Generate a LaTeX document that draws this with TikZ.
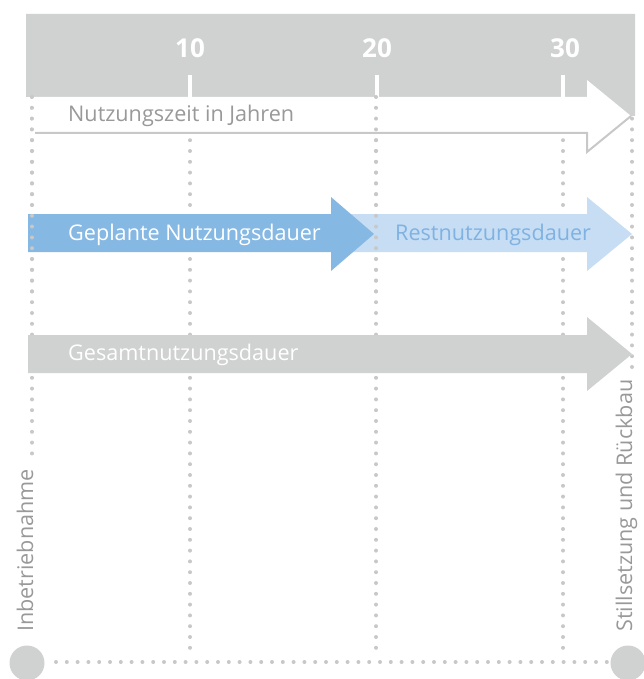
\documentclass[tikz,border=0pt]{standalone}
\usepackage{fontspec}
\setmainfont{Open Sans}
\definecolor{barg}{HTML}{D0D1D1}
\definecolor{dotg}{HTML}{C8C8C8}
\definecolor{txtg}{HTML}{999999}
\definecolor{blueA}{HTML}{86B8E4}
\definecolor{blueB}{HTML}{C6DDF4}
\definecolor{blueT}{HTML}{7FB2E2}
\begin{document}
\begin{tikzpicture}[x=1pt,y=-1pt,
  dots/.style={dotg,line width=4pt,line cap=round,dash pattern=on 0pt off 10.8pt},
  lbl/.style={font=\fontsize{21.6}{26}\selectfont,inner sep=0pt,anchor=base west},
  num/.style={font=\fontsize{26}{30}\selectfont\bfseries,text=white,inner sep=0pt,anchor=base},
  tick/.style={fill=white},
  milestone/.style={circle,fill=barg,minimum size=35pt,inner sep=0pt}]
\useasboundingbox (0,0) rectangle (644,679);
% vertical dotted guide lines
\coordinate (v0t) at (32,97);  \coordinate (v0b) at (32,462);
\coordinate (v1t) at (190,97); \coordinate (v1b) at (190,652);
\coordinate (v2t) at (376,97); \coordinate (v2b) at (376,652);
\coordinate (v3t) at (563,97); \coordinate (v3b) at (563,652);
\coordinate (v4t) at (632,97); \coordinate (v4b) at (632,372);
\foreach \i in {0,...,4} \draw[dots] (v\i t) -- (v\i b);
% milestones and bottom dotted line
\node[milestone] (start) at (27,663) {};
\node[milestone] (end) at (628,663) {};
\coordinate (hL) at (56,662); \coordinate (hR) at (608,662);
\draw[dots] (hL) -- (hR);
% Gesamtnutzungsdauer arrow
\fill[barg] (28,335) -- (587,335) -- (587,317) -- (632,354) -- (587,391) -- (587,373) -- (28,373) -- cycle;
% Restnutzungsdauer arrow
\fill[blueB] (350,214) -- (587,214) -- (587,197) -- (632,234) -- (587,271) -- (587,252) -- (350,252) -- cycle;
% Geplante Nutzungsdauer arrow
\fill[blueA] (28,214) -- (331,214) -- (331,197) -- (374,234) -- (331,271) -- (331,252) -- (28,252) -- cycle;
% top bar
\fill[barg] (26,14) -- (635,14) -- (635,116) -- (587,116) -- (587,97) -- (26,97) -- cycle;
\fill[tick] (188,75) rectangle (192,97);
\fill[tick] (375,75) rectangle (379,97);
\fill[tick] (561,75) rectangle (565,97);
% white time arrow
\fill[white] (32,97) -- (587,97) -- (587,80) -- (631,116) -- (587,152) -- (587,132) -- (32,132) -- cycle;
\draw[dotg,line width=2pt] (35,133) -- (587,133) -- (587,152) -- (631,116);
% dotted lines visible on top
\coordinate (o0b) at (32,300); \coordinate (o2b) at (376,300);
\draw[dots] (v0t) -- (o0b);
\draw[dots] (v2t) -- (o2b);
% numbers
\node[num] (n10) at (190,58) {10};
\node[num] (n20) at (377,58) {20};
\node[num] (n30) at (565,58) {30};
% labels
\node[lbl,text=txtg] (tz) at (68,122) {Nutzungszeit in Jahren};
\node[lbl,text=white] (gp) at (68,240) {Geplante Nutzungsdauer};
\node[lbl,text=blueT] (rn) at (395,240) {Restnutzungsdauer};
\node[lbl,text=white] (gs) at (68,360) {Gesamtnutzungsdauer};
\node[lbl,text=txtg,rotate=90] (ib) at (33,632) {Inbetriebnahme};
\node[lbl,text=txtg,rotate=90] (sr) at (632,632) {Stillsetzung und Rückbau};
\end{tikzpicture}
\end{document}
